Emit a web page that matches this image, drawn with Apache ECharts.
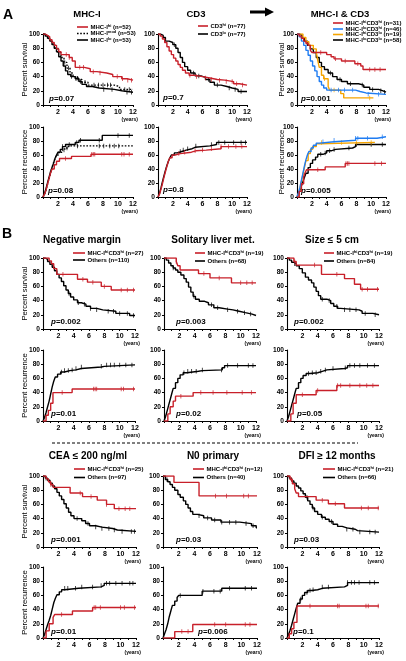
<!DOCTYPE html>
<html><head><meta charset="utf-8">
<script src="https://cdn.jsdelivr.net/npm/echarts@6/dist/echarts.min.js"></script>
<style>html,body{margin:0;padding:0;background:#fff}#c{width:406px;height:661px}</style>
</head><body><div id="c"></div><script>
// ---------- tick labels ----------
const X_LABELS = [2, 4, 6, 8, 10, 12];
const Y_LABELS = [0, 20, 40, 60, 80, 100];

// ---------- Panel A: MHC-I ----------
const A1S_HI = [[0,100],[0.3,98],[0.6,96],[0.9,92],[1.2,88],[1.5,84],[1.8,79],[2.1,75],[2.4,71],[3.5,67],[3.9,62],[4.3,53],[5.5,51],[6.3,47],[7.2,45],[8.5,43],[9.3,40],[10.5,37],[11.2,35],[12,35]];
const A1S_HI_C = [3.1,3.5,4.9,5.4,6.7,7.6,9.9,10.6,11.3,11.8];
const A1S_MOD = [[0,100],[0.4,97],[0.8,92],[1.2,86],[1.6,80],[2.0,74],[2.4,67],[2.8,60],[3.2,52],[3.6,45],[4.0,40],[4.6,36],[5.2,32],[6.0,28],[9.5,26],[10.2,22],[12,22]];
const A1S_MOD_C = [2.9,3.4,4.7,5.6,6.8,7.4,8.0,8.6,9.0,10.9,11.5];
const A1S_LO = [[0,100],[0.3,97],[0.6,94],[0.9,90],[1.2,85],[1.5,80],[1.8,75],[2.1,68],[2.4,62],[2.7,55],[3.0,48],[3.3,43],[3.7,40],[4.3,37],[4.8,33],[5.2,29],[5.8,26],[6.6,24],[7.5,22],[9.5,20],[10.5,18],[12,18]];
const A1S_LO_C = [3.8,4.4,5.0,8.1,9.2,11.2,11.8];
const A1R_HI = [[0,0],[0.2,4],[0.4,10],[0.6,18],[0.8,26],[1.0,34],[1.2,40],[1.5,46],[1.8,51],[2.2,55],[3.8,58],[6.4,61],[12,61]];
const A1R_HI_C = [3.0,6.5,6.7,6.9,10.5,10.8,11.5];
const A1R_MOD = [[0,0],[0.2,4],[0.4,10],[0.6,18],[0.8,26],[1.0,34],[1.2,42],[1.4,49],[1.6,55],[1.8,60],[2.1,64],[2.5,67],[2.9,70],[3.4,73],[12,73]];
const A1R_MOD_C = [2.8,3.2,4.6,7.5,8.1,8.9,9.5,10.1];
const A1R_LO = [[0,0],[0.2,5],[0.4,12],[0.6,20],[0.8,28],[1.0,36],[1.2,42],[1.4,48],[1.6,55],[1.8,60],[2.0,64],[2.3,68],[2.6,72],[3.0,75],[4.3,78],[4.8,81],[7.9,88],[12,88]];
const A1R_LO_C = [2.6,3.5,4.5,5.0,7.5,10.0,11.5];

// ---------- Panel A: CD3 ----------
const A2S_HI = [[0,100],[0.3,97],[0.6,93],[0.9,88],[1.2,82],[1.5,76],[1.8,71],[2.1,66],[2.4,62],[2.7,57],[3.0,53],[3.3,49],[3.7,45],[4.2,42],[4.8,40],[6.0,38],[7.0,36],[8.0,35],[9.0,33],[10.2,30],[11.0,28],[12,28]];
const A2S_HI_C = [4.3,5.2,6.4,7.2,8.3,9.2,10.0,10.6,11.4];
const A2S_LO = [[0,100],[0.3,98],[0.7,95],[1.0,90],[1.5,88],[2.0,85],[2.4,80],[2.7,74],[3.0,67],[3.3,60],[3.6,54],[4.0,49],[4.4,45],[5.0,41],[5.8,39],[6.4,36],[7.0,32],[7.6,28],[8.5,26],[9.3,24],[10.0,22],[10.8,19],[12,19]];
const A2S_LO_C = [2.2,4.8,5.5,6.8,8.0,9.6,10.4,11.2];
const A2R_HI = [[0,0],[0.2,4],[0.4,11],[0.6,19],[0.8,28],[1.0,36],[1.2,44],[1.4,51],[1.6,56],[1.9,60],[2.3,62],[3.0,64],[4.5,66],[5.1,67],[6.5,69],[8.5,72],[12,72]];
const A2R_HI_C = [2.8,3.6,5.0,6.0,7.2,8.5,9.5,10.5,11.3];
const A2R_LO = [[0,0],[0.2,5],[0.4,13],[0.6,22],[0.8,30],[1.0,38],[1.2,45],[1.4,51],[1.6,56],[1.8,60],[2.2,63],[2.6,65],[3.2,67],[3.8,69],[4.6,71],[5.0,73],[7.0,75],[7.9,78],[12,78]];
const A2R_LO_C = [3.0,3.4,4.0,5.1,7.2,8.2,9.0,10.2,11.2,11.8];

// ---------- Panel A: MHC-I & CD3 ----------
const A3S_HH = [[0,100],[0.3,97],[0.6,94],[0.9,90],[1.2,87],[1.5,84],[1.8,77],[2.0,74],[4.0,71],[4.6,68],[5.0,65],[6.0,62],[7.8,58],[8.6,55],[8.9,50],[12,50]];
const A3S_HH_C = [3.2,5.2,6.5,8.2,9.8,10.5,11.2];
const A3S_LH = [[0,100],[0.3,96],[0.6,90],[0.9,84],[1.2,77],[1.5,70],[1.8,62],[2.1,55],[2.4,48],[2.7,40],[3.0,33],[3.3,28],[3.6,24],[4.0,21],[7.9,19],[8.5,17],[9.3,15],[12,15]];
const A3S_LH_C = [4.6,5.6,6.4,7.5,9.6,11.0];
const A3S_HL = [[0,100],[0.8,95],[1.2,89],[1.6,84],[2.2,79],[2.6,74],[2.8,63],[3.0,53],[3.3,42],[3.6,37],[4.2,26],[4.4,21],[5.9,16],[6.3,10],[10.3,10]];
const A3S_HL_C = [3.7,5.0,9.8];
const A3S_LL = [[0,100],[0.3,98],[0.7,94],[1.0,90],[1.4,84],[1.8,79],[2.2,74],[2.6,67],[3.0,60],[3.3,54],[3.7,50],[4.2,45],[4.8,40],[5.4,36],[6.0,33],[6.8,30],[8.3,28],[9.0,25],[9.8,22],[11.0,20],[11.6,18],[12,18]];
const A3S_LL_C = [4.5,5.8,7.2,8.8,10.2,11.3,11.8];
const A3R_HH = [[0,0],[0.3,8],[0.6,19],[0.9,29],[1.1,35],[1.3,39],[3.8,43],[6.5,48],[12,48]];
const A3R_HH_C = [2.8,6.6,6.8,7.0,10.5,11.4];
const A3R_LH = [[0,0],[0.2,6],[0.4,14],[0.6,24],[0.8,34],[1.0,44],[1.2,53],[1.4,60],[1.6,65],[1.9,70],[2.2,74],[2.6,77],[3.0,79],[5.0,81],[7.9,84],[10.8,86],[12,86]];
const A3R_LH_C = [3.5,5.0,7.9,8.2,9.5,11.5];
const A3R_HL = [[0,0],[0.2,5],[0.4,12],[0.6,22],[0.8,32],[1.0,42],[1.2,52],[1.5,62],[1.8,68],[2.1,72],[2.6,76],[3.1,78],[10.5,78]];
const A3R_HL_C = [3.3,6.0,8.0,10.0];
const A3R_LL = [[0,0],[0.2,4],[0.4,10],[0.6,16],[0.8,22],[1.0,28],[1.2,34],[1.5,42],[1.8,48],[2.1,53],[2.5,57],[2.8,61],[3.5,63],[4.0,66],[4.6,68],[5.2,70],[7.5,72],[7.9,75],[12,75]];
const A3R_LL_C = [3.2,3.8,4.4,5.0,7.0,8.0,10.0,11.5];

// ---------- Panel B ----------
const B1S_HH = [[0,100],[0.8,96],[1.1,92],[1.4,85],[1.8,77],[4.5,70],[5.8,66],[7.6,60],[8.9,55],[12,55]];
const B1S_HH_C = [2.6,5.2,6.5,8.0,10.2,11.0,11.8];
const B1S_OT = [[0,100],[0.3,98],[0.6,95],[0.9,91],[1.2,87],[1.5,82],[1.8,77],[2.1,72],[2.4,67],[2.7,61],[3.0,55],[3.3,50],[3.6,45],[4.0,41],[4.5,37],[5.0,35],[5.6,32],[6.2,29],[7.0,27],[7.8,25],[9.5,22],[11.3,19],[12,19]];
const B1S_OT_C = [3.4,4.6,5.4,6.2,7.0,8.5,9.2,10.0,11.0,11.8];
const B1R_HH = [[0,0],[0.4,8],[0.7,15],[1.0,25],[1.3,40],[3.8,45],[12,45]];
const B1R_HH_C = [2.5,6.6,6.8,7.0,10.2,10.5,11.8];
const B1R_OT = [[0,0],[0.2,5],[0.4,12],[0.6,20],[0.8,28],[1.0,38],[1.2,48],[1.4,56],[1.6,62],[1.9,66],[2.3,69],[2.8,71],[3.5,72],[4.3,74],[5.0,76],[7.6,77],[8.0,79],[12,79]];
const B1R_OT_C = [2.4,2.8,3.3,3.8,4.3,5.0,7.6,8.3,8.8,9.3,10.0,10.8,11.6];

const B2S_HH = [[0,100],[1.6,95],[1.8,89],[2.1,83],[4.5,78],[6.0,72],[8.8,65],[12,65]];
const B2S_HH_C = [1.6,5.2,7.2,10.0,10.8,11.5];
const B2S_OT = [[0,100],[0.3,97],[0.6,93],[0.9,89],[1.2,86],[1.5,83],[1.8,80],[2.2,76],[2.6,71],[2.9,66],[3.2,59],[3.5,52],[3.8,46],[4.1,42],[4.6,39],[5.3,37],[5.8,34],[6.5,30],[7.2,28],[8.3,27],[9.0,25],[9.8,23],[10.6,21],[11.5,19],[12,19]];
const B2S_OT_C = [1.2,3.9,6.2,7.0,8.3,9.6,10.5,11.3];
const B2R_HH = [[0,0],[0.5,10],[0.8,20],[1.2,28],[1.5,35],[3.8,40],[12,40]];
const B2R_HH_C = [2.2,4.8,6.4,8.2,10.2,11.4];
const B2R_OT = [[0,0],[0.2,6],[0.4,14],[0.6,22],[0.8,30],[1.0,38],[1.2,46],[1.5,54],[1.8,60],[2.1,65],[2.5,68],[3.0,70],[4.5,71],[5.0,72],[7.6,75],[7.9,78],[12,78]];
const B2R_OT_C = [2.6,3.1,3.6,4.2,5.0,7.5,8.3,9.6,11.0,11.6];

const B3S_HH = [[0,100],[0.9,95],[1.2,90],[4.5,77],[7.5,71],[8.8,63],[9.6,56],[12,56]];
const B3S_HH_C = [1.0,3.6,6.5,9.8,10.5,11.8];
const B3S_OT = [[0,100],[0.3,97],[0.6,94],[0.9,92],[1.2,89],[1.6,85],[2.0,79],[2.4,73],[2.8,69],[3.2,65],[3.5,59],[3.8,53],[4.1,47],[4.4,42],[5.2,40],[5.7,36],[6.1,32],[6.6,29],[7.0,27],[9.4,25],[9.8,22],[11.2,20],[12,20]];
const B3S_OT_C = [1.0,4.6,5.5,6.5,7.5,8.2,9.0,10.2,11.5];
const B3R_HH = [[0,0],[0.5,10],[0.8,25],[1.2,37],[3.8,43],[6.5,50],[12,50]];
const B3R_HH_C = [2.0,4.0,6.6,7.0,8.2,9.5,10.4,11.2];
const B3R_OT = [[0,0],[0.2,6],[0.4,14],[0.6,22],[0.8,30],[1.0,38],[1.2,46],[1.5,54],[1.8,60],[2.1,64],[2.5,67],[3.0,68],[4.0,70],[4.6,72],[5.2,74],[7.5,75],[7.9,78],[12,78]];
const B3R_OT_C = [2.8,3.3,3.8,4.4,5.0,6.0,7.6,8.2,8.8,9.5,10.5,11.4];

const B4S_HH = [[0,100],[0.4,96],[0.7,92],[1.0,88],[1.3,84],[3.5,76],[5.1,71],[7.0,66],[8.2,60],[9.2,54],[12,54]];
const B4S_HH_C = [1.0,4.8,6.2,8.2,9.8,10.6,11.2];
const B4S_OT = [[0,100],[0.3,97],[0.6,94],[0.9,90],[1.2,86],[1.5,82],[1.8,77],[2.1,72],[2.4,67],[2.7,61],[3.0,55],[3.3,49],[3.6,44],[4.0,40],[5.0,37],[5.5,33],[6.0,30],[6.8,28],[7.6,26],[9.0,24],[9.6,22],[12,22]];
const B4S_OT_C = [0.4,4.4,5.8,6.8,7.6,8.5,9.2,10.2,11.4,11.8];
const B4R_HH = [[0,0],[0.4,10],[0.8,20],[1.3,29],[1.5,33],[3.8,38],[6.4,43],[12,43]];
const B4R_HH_C = [2.4,6.6,6.8,7.4,10.0,10.5,11.8];
const B4R_OT = [[0,0],[0.2,5],[0.4,12],[0.6,19],[0.8,25],[1.0,32],[1.2,41],[1.4,50],[1.6,56],[1.8,61],[2.1,65],[2.4,68],[2.8,70],[4.6,72],[7.5,74],[7.9,77],[12,77]];
const B4R_OT_C = [2.8,3.2,4.2,5.0,6.4,7.5,8.2,8.6,9.4,10.2,11.2,11.6];

const B5S_HH = [[0,100],[1.4,91],[4.6,72],[12,72]];
const B5S_HH_C = [6.7,8.1,10.3,10.9];
const B5S_OT = [[0,100],[0.3,95],[0.6,92],[0.9,88],[1.2,84],[1.5,80],[1.9,74],[2.2,70],[2.6,65],[2.9,60],[3.2,55],[3.5,50],[3.8,46],[4.4,44],[5.2,41],[6.2,38],[7.4,35],[9.8,33],[11.3,30],[11.9,27],[12,27]];
const B5S_OT_C = [0.5,4.6,5.7,6.6,7.5,8.5,9.3,10.6,11.5];
const B5R_HH = [[0,0],[1.5,9],[3.8,19],[12,19]];
const B5R_HH_C = [2.4,3.2,6.6,8.0,10.5,11.1];
const B5R_OT = [[0,0],[0.2,6],[0.4,12],[0.6,20],[0.8,30],[1.0,38],[1.2,46],[1.5,52],[1.8,57],[2.0,60],[5.0,66],[7.5,70],[12,70]];
const B5R_OT_C = [2.2,5.1,6.5,7.3,8.5,10.5,11.3];

const B6S_HH = [[0,100],[0.4,95],[0.7,89],[1.0,82],[1.2,76],[1.5,71],[3.8,66],[5.4,61],[7.5,55],[12,55]];
const B6S_HH_C = [0.6,4.6,6.3,9.7,10.6,11.9];
const B6S_OT = [[0,100],[0.3,97],[0.6,93],[0.9,90],[1.2,86],[1.5,83],[1.8,79],[2.1,75],[2.4,70],[2.7,65],[3.0,60],[3.3,55],[3.6,50],[4.0,46],[4.5,42],[5.0,39],[5.5,36],[6.0,32],[6.6,29],[7.2,27],[7.8,25],[8.9,23],[9.2,21],[12,21]];
const B6S_OT_C = [2.6,3.4,4.6,5.8,7.8,8.6,9.5,10.8,11.5];
const B6R_HH = [[0,0],[0.3,6],[0.6,13],[0.9,22],[1.3,45],[12,45]];
const B6R_HH_C = [3.0,6.6,6.8,10.3,10.6,11.9];
const B6R_OT = [[0,0],[0.2,5],[0.4,11],[0.6,18],[0.8,26],[1.0,34],[1.2,42],[1.4,49],[1.7,55],[2.0,60],[2.3,64],[2.7,67],[3.2,68],[4.0,70],[4.6,72],[7.5,74],[7.9,78],[12,78]];
const B6R_OT_C = [1.8,2.6,3.0,3.4,4.6,5.4,7.9,8.4,8.8,9.4,10.8,11.4];

// ---------- styles / layout ----------
const RED = '#c8202a', BLK = '#000000', BLUE = '#1f7cf2', ORG = '#f5a400';
const FONT = 'Arial, "Liberation Sans", sans-serif';

function stepAt(d, t) { let v = d[0][1]; for (const p of d) { if (p[0] <= t) v = p[1]; else break; } return v; }

const panels = [
  {box:[43,34,90,71], yname:'Percent survival', gap:14, p:'0.07', pp:[49,99], curves:[[A1S_LO,A1S_LO_C,BLK],[A1S_MOD,A1S_MOD_C,BLK,true],[A1S_HI,A1S_HI_C,RED]]},
  {box:[158,34,89,71], p:'0.7', pp:[163,98], curves:[[A2S_LO,A2S_LO_C,BLK],[A2S_HI,A2S_HI_C,RED]]},
  {box:[297,34,89,71], yname:'Percent survival', gap:11.5, p:'0.001', pp:[301,99], curves:[[A3S_LL,A3S_LL_C,BLK],[A3S_HL,A3S_HL_C,ORG],[A3S_LH,A3S_LH_C,BLUE],[A3S_HH,A3S_HH_C,RED]]},
  {box:[43,127,90,70], yname:'Percent recurrence', gap:14, p:'0.08', pp:[48,191], curves:[[A1R_LO,A1R_LO_C,BLK],[A1R_MOD,A1R_MOD_C,BLK,true],[A1R_HI,A1R_HI_C,RED]]},
  {box:[158,127,89,70], p:'0.8', pp:[163,190], curves:[[A2R_LO,A2R_LO_C,BLK],[A2R_HI,A2R_HI_C,RED]]},
  {box:[297,127,89,70], yname:'Percent recurrence', gap:11.5, p:'0.005', pp:[301,191], curves:[[A3R_LL,A3R_LL_C,BLK],[A3R_HL,A3R_HL_C,ORG],[A3R_LH,A3R_LH_C,BLUE],[A3R_HH,A3R_HH_C,RED]]},
  {box:[43,258,92,71], yname:'Percent survival', gap:14, p:'0.002', pp:[51,322], curves:[[B1S_OT,B1S_OT_C,BLK],[B1S_HH,B1S_HH_C,RED]]},
  {box:[164,258,92,71], p:'0.003', pp:[176,322], curves:[[B2S_OT,B2S_OT_C,BLK],[B2S_HH,B2S_HH_C,RED]]},
  {box:[287,258,92,71], p:'0.002', pp:[294,322], curves:[[B3S_OT,B3S_OT_C,BLK],[B3S_HH,B3S_HH_C,RED]]},
  {box:[43,350,92,71], yname:'Percent recurrence', gap:14, p:'0.01', pp:[51,414], curves:[[B1R_OT,B1R_OT_C,BLK],[B1R_HH,B1R_HH_C,RED]]},
  {box:[164,350,92,71], p:'0.02', pp:[176,414], curves:[[B2R_OT,B2R_OT_C,BLK],[B2R_HH,B2R_HH_C,RED]]},
  {box:[287,350,92,71], p:'0.05', pp:[297,414], curves:[[B3R_OT,B3R_OT_C,BLK],[B3R_HH,B3R_HH_C,RED]]},
  {box:[43,476,93,71], yname:'Percent survival', gap:14, p:'0.001', pp:[51,540], curves:[[B4S_OT,B4S_OT_C,BLK],[B4S_HH,B4S_HH_C,RED]]},
  {box:[163,476,94,71], p:'0.03', pp:[176,540], curves:[[B5S_OT,B5S_OT_C,BLK],[B5S_HH,B5S_HH_C,RED]]},
  {box:[287,476,92,71], p:'0.03', pp:[294,540], curves:[[B6S_OT,B6S_OT_C,BLK],[B6S_HH,B6S_HH_C,RED]]},
  {box:[43,567,93,71], yname:'Percent recurrence', gap:14, p:'0.01', pp:[51,632], curves:[[B4R_OT,B4R_OT_C,BLK],[B4R_HH,B4R_HH_C,RED]]},
  {box:[163,567,94,71], p:'0.006', pp:[198,632], curves:[[B5R_OT,B5R_OT_C,BLK],[B5R_HH,B5R_HH_C,RED]]},
  {box:[287,567,92,71], p:'0.1', pp:[293,632], curves:[[B6R_OT,B6R_OT_C,BLK],[B6R_HH,B6R_HH_C,RED]]}
];

const grid = [], xAxis = [], yAxis = [], series = [], graphic = [];
function txt(x, y, text, font, align, extra) {
  graphic.push({type:'text', x:x, y:y, silent:true, style:Object.assign({text:text, font:font, fill:'#000', textAlign:align||'left', align:align||'left', textVerticalAlign:'middle', verticalAlign:'middle'}, extra||{})});
}
const RICH = {
  b:{font:'bold 6px ' + FONT, fill:'#000', lineHeight:7},
  s:{font:'bold 4px ' + FONT, fill:'#000', lineHeight:7, verticalAlign:'top'},
  pi:{font:'italic bold 8px ' + FONT, fill:'#000'},
  pb:{font:'bold 8px ' + FONT, fill:'#000'}
};

panels.forEach((p, i) => {
  const [l, t, w, h] = p.box;
  grid.push({left:l, top:t, width:w, height:h, containLabel:false});
  xAxis.push({type:'value', gridIndex:i, min:0, max:12, interval:1,
    axisLine:{lineStyle:{color:'#000', width:1.1}},
    axisTick:{length:2, lineStyle:{color:'#000', width:1}},
    axisLabel:{formatter:v => X_LABELS.indexOf(v) >= 0 ? String(v) : '', fontSize:7, fontWeight:'bold', color:'#000', margin:4, fontFamily:FONT},
    splitLine:{show:false}});
  yAxis.push({type:'value', gridIndex:i, min:0, max:100, interval:20,
    name:p.yname || '', nameLocation:'middle', nameGap:p.gap || 10, nameRotate:90, nameMoveOverlap:false,
    nameTextStyle:{fontSize:7.6, color:'#000', fontFamily:FONT},
    axisLine:{show:true, lineStyle:{color:'#000', width:1.1}},
    axisTick:{show:true, length:2, lineStyle:{color:'#000', width:1}},
    axisLabel:{formatter:v => Y_LABELS.indexOf(v) >= 0 ? String(v) : '', fontSize:6.6, fontWeight:'bold', color:'#000', margin:3, fontFamily:FONT},
    splitLine:{show:false}});
  p.curves.forEach((cv, k) => {
    const [d, cens, col, dash] = cv;
    series.push({type:'line', xAxisIndex:i, yAxisIndex:i, step:'end', data:d, symbol:'none', z:2 + k,
      lineStyle:{color:col, width:1.4, type: dash ? [1.6, 1.6] : 'solid'}, silent:true});
    series.push({type:'scatter', xAxisIndex:i, yAxisIndex:i, data:cens.map(c => [c, stepAt(d, c)]), symbol:'rect', symbolSize:[0.9, 4.5], z:2 + k,
      itemStyle:{color:col}, silent:true});
  });
  graphic.push({type:'text', x:p.pp[0], y:p.pp[1], silent:true, style:{text:'{pi|p}{pb|=' + p.p + '}', rich:RICH, textVerticalAlign:'middle', verticalAlign:'middle'}});
  txt(l + w + 5, t + h + 15, '(years)', 'bold 5px ' + FONT, 'right');
});

txt(3, 15, 'A', 'bold 14px ' + FONT, 'left');
txt(2, 234, 'B', 'bold 14px ' + FONT, 'left');
txt(87, 14, 'MHC-I', 'bold 9.5px ' + FONT, 'center');
txt(196, 14, 'CD3', 'bold 9.5px ' + FONT, 'center');
txt(340, 14, 'MHC-I & CD3', 'bold 9.5px ' + FONT, 'center');
txt(82, 240, 'Negative margin', 'bold 10px ' + FONT, 'center');
txt(213, 240, 'Solitary liver met.', 'bold 10px ' + FONT, 'center');
txt(332, 240, 'Size \u2264 5 cm', 'bold 10px ' + FONT, 'center');
txt(88, 456, 'CEA \u2264 200 ng/ml', 'bold 10px ' + FONT, 'center');
txt(213, 456, 'N0 primary', 'bold 10px ' + FONT, 'center');
txt(337, 456, 'DFI \u2265 12 months', 'bold 10px ' + FONT, 'center');

graphic.push({type:'line', silent:true, shape:{x1:250, y1:12, x2:267, y2:12}, style:{stroke:'#000', lineWidth:3}});
graphic.push({type:'polygon', silent:true, shape:{points:[[265,7.5],[274,12],[265,16.5]]}, style:{fill:'#000'}});
graphic.push({type:'line', silent:true, shape:{x1:52, y1:443, x2:358, y2:443}, style:{stroke:'#000', lineWidth:1, lineDash:[3,2]}});

function leg(x1, x2, y, col, dash, text) {
  graphic.push({type:'line', silent:true, shape:{x1:x1, y1:y, x2:x2, y2:y}, style:{stroke:col, lineWidth:1.6, lineDash: dash ? [1.6,1.6] : null}});
  graphic.push({type:'text', silent:true, x:x2 + 2.5, y:y, style:{text:text, rich:RICH, textVerticalAlign:'middle', verticalAlign:'middle'}});
}
const HH = '{b|MHC-I}{s|hi}{b|CD3}{s|hi}';
leg(77, 88, 27, RED, false, '{b|MHC-I}{s|hi}{b| (n=52)}');
leg(77, 88, 33.5, BLK, true, '{b|MHC-I}{s|mod}{b| (n=53)}');
leg(77, 88, 40, BLK, false, '{b|MHC-I}{s|lo}{b| (n=53)}');
leg(198, 208, 26, RED, false, '{b|CD3}{s|hi}{b| (n=77)}');
leg(198, 208, 34, BLK, false, '{b|CD3}{s|lo}{b| (n=77)}');
leg(333, 343, 23, RED, false, HH + '{b| (n=31)}');
leg(333, 343, 29, BLUE, false, '{b|MHC-I}{s|lo}{b|CD3}{s|hi}{b| (n=46)}');
leg(333, 343, 34.5, ORG, false, '{b|MHC-I}{s|hi}{b|CD3}{s|lo}{b| (n=19)}');
leg(333, 343, 40, BLK, false, '{b|MHC-I}{s|lo}{b|CD3}{s|lo}{b| (n=58)}');
leg(73, 85, 253, RED, false, HH + '{b| (n=27)}');
leg(73, 85, 260, BLK, false, '{b|Others (n=110)}');
leg(195, 205, 253, RED, false, HH + '{b| (n=19)}');
leg(195, 205, 261, BLK, false, '{b|Others (n=68)}');
leg(324, 334, 253, RED, false, HH + '{b| (n=19)}');
leg(324, 334, 261, BLK, false, '{b|Others (n=84)}');
leg(74, 85, 469, RED, false, HH + '{b| (n=25)}');
leg(74, 85, 477.5, BLK, false, '{b|Others (n=97)}');
leg(193, 204, 469, RED, false, HH + '{b| (n=12)}');
leg(193, 204, 477.5, BLK, false, '{b|Others (n=40)}');
leg(323, 335, 469, RED, false, HH + '{b| (n=21)}');
leg(323, 335, 477.5, BLK, false, '{b|Others (n=66)}');

const chart = echarts.init(document.getElementById('c'), null, {renderer:'canvas'});
chart.setOption({animation:false, backgroundColor:'#fff', grid:grid, xAxis:xAxis, yAxis:yAxis, series:series, graphic:graphic});
</script></body></html>
